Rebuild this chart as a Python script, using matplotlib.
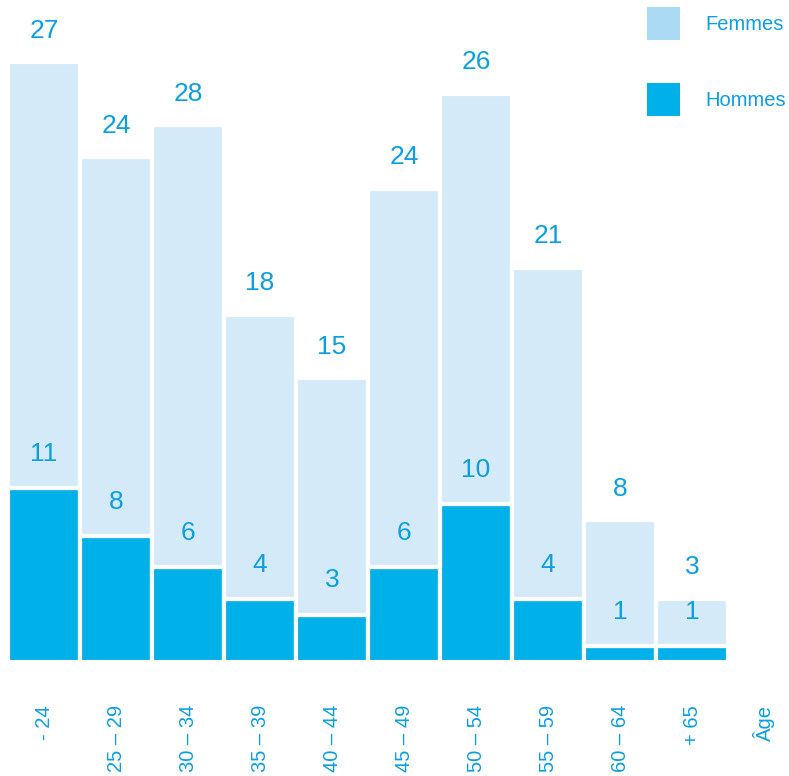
import matplotlib
matplotlib.use("Agg")
import matplotlib.pyplot as plt
from matplotlib.patches import Patch
import numpy as np

# data
age_groups = ["- 24", "25 – 29", "30 – 34", "35 – 39", "40 – 44",
              "45 – 49", "50 – 54", "55 – 59", "60 – 64", "+ 65"]
hommes = [11, 8, 6, 4, 3, 6, 10, 4, 1, 1]
femmes = [27, 24, 28, 18, 15, 24, 26, 21, 8, 3]
axis_label = "Âge"

TEXT = "#0b9fe0"
C_HOMMES = "#00b0e8"
C_FEMMES = "#d4eaf8"
C_FEMMES_LEG = "#abdbf4"

plt.rcParams["font.family"] = ["Liberation Sans", "DejaVu Sans"]

fig = plt.figure(figsize=(7.89, 7.76), dpi=100)
W, H = 789, 776
ax = fig.add_axes([8 / W, 114 / H, 777.6 / W, 662 / H])

x = np.arange(len(age_groups))
h = np.array(hommes)
f = np.array(femmes)

ax.bar(x, h, width=1.0, color=C_HOMMES, edgecolor="white", linewidth=3)
ax.bar(x, f, bottom=h, width=1.0, color=C_FEMMES, edgecolor="white", linewidth=3)

for xi, hv, fv in zip(x, h, f):
    ax.annotate(str(fv), (xi, hv + fv), xytext=(0, 14), textcoords="offset points",
                ha="center", va="bottom", fontsize=19, color=TEXT)
    ax.annotate(str(hv), (xi, hv), xytext=(0, 16), textcoords="offset points",
                ha="center", va="bottom", fontsize=19, color=TEXT)

ax.set_xlim(-0.5, 10.3)
ax.set_ylim(0, 662 / 15.78)
ax.set_xticks(list(x) + [len(age_groups)])
ax.set_xticklabels(age_groups + [axis_label], rotation=90, fontsize=14.5,
                   color=TEXT, va="top", ha="center")
ax.tick_params(axis="x", length=0, pad=31)
ax.set_yticks([])
for s in ax.spines.values():
    s.set_visible(False)

handles = [Patch(facecolor=C_FEMMES_LEG, edgecolor="none"),
           Patch(facecolor=C_HOMMES, edgecolor="none")]
leg = fig.legend(handles, ["Femmes", "Hommes"], loc="upper left",
                 bbox_to_anchor=(647 / W, 1 - 7 / H), frameon=False,
                 fontsize=14.5, handlelength=1.64, handleheight=2.15,
                 handletextpad=1.25, labelspacing=2.15, borderpad=0,
                 borderaxespad=0)
for t in leg.get_texts():
    t.set_color(TEXT)

fig.savefig("out.png", dpi=100)
